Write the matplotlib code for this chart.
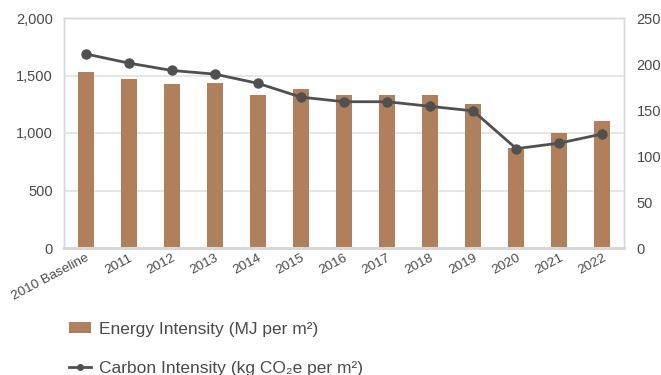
import matplotlib
matplotlib.use("Agg")
import matplotlib.pyplot as plt
from matplotlib.patches import Patch
from matplotlib.lines import Line2D
import numpy as np

plt.rcParams['font.family'] = ['Liberation Sans', 'DejaVu Sans']

categories = ["2010 Baseline", "2011", "2012", "2013", "2014", "2015", "2016",
              "2017", "2018", "2019", "2020", "2021", "2022"]
energy_intensity = [1530, 1470, 1425, 1435, 1330, 1380, 1330, 1330, 1330, 1250, 873, 1000, 1105]
carbon_intensity = [211, 201, 193, 189, 179, 164, 159, 159, 154, 149, 108, 114, 124]
left_ticks = [0, 500, 1000, 1500, 2000]
left_tick_labels = ["0", "500", "1,000", "1,500", "2,000"]
right_ticks = [0, 50, 100, 150, 200, 250]

bar_color = "#B0805C"
line_color = "#505050"
grid_color = "#E2E2E2"
spine_color = "#D8D8D8"
text_color = "#4A4A4A"

fig = plt.figure(figsize=(6.61, 3.75), dpi=100)
ax = fig.add_axes([64/661, 1-248/375, (624-64)/661, (248-18)/375])
ax2 = ax.twinx()

x = np.arange(len(categories))
ax.bar(x, energy_intensity, width=0.37, color=bar_color, zorder=2)
ax2.plot(x, carbon_intensity, color=line_color, lw=2.0, marker='o', ms=6.5, zorder=3)

ax.set_xlim(-0.5, len(categories) - 0.5)
ax.set_ylim(0, 2000)
ax2.set_ylim(0, 250)
ax.set_yticks(left_ticks)
ax.set_yticklabels(left_tick_labels)
ax2.set_yticks(right_ticks)
ax.set_xticks(x)
ax.set_xticklabels(categories, rotation=28, ha='right', rotation_mode='anchor')

ax.yaxis.grid(True, color=grid_color, lw=1.2, zorder=0)
ax.set_axisbelow(True)

for a in (ax, ax2):
    a.tick_params(length=0, labelsize=10.5, colors=text_color)
    for s in a.spines.values():
        s.set_color(spine_color)
        s.set_linewidth(1.0)
    a.spines['bottom'].set_linewidth(2.0)
ax.tick_params(axis='y', pad=8)
ax2.tick_params(axis='y', pad=9)
ax.tick_params(axis='x', pad=3, labelsize=9.7)
for lbl in ax.get_xticklabels():
    lbl.set_x(lbl.get_position()[0])

handles = [Patch(facecolor=bar_color, edgecolor='none'),
           Line2D([0], [0], color=line_color, lw=2.0, marker='o', ms=4)]
labels = ["Energy Intensity (MJ per m²)", "Carbon Intensity (kg CO₂e per m²)"]
fig.legend(handles, labels, loc='upper left', bbox_to_anchor=(55/661, 1-308/375),
           frameon=False, fontsize=12.5, labelcolor=text_color, handlelength=1.3,
           handleheight=0.6, handletextpad=0.45, labelspacing=1.4, borderpad=0.3)

fig.savefig("out.png", dpi=100)
